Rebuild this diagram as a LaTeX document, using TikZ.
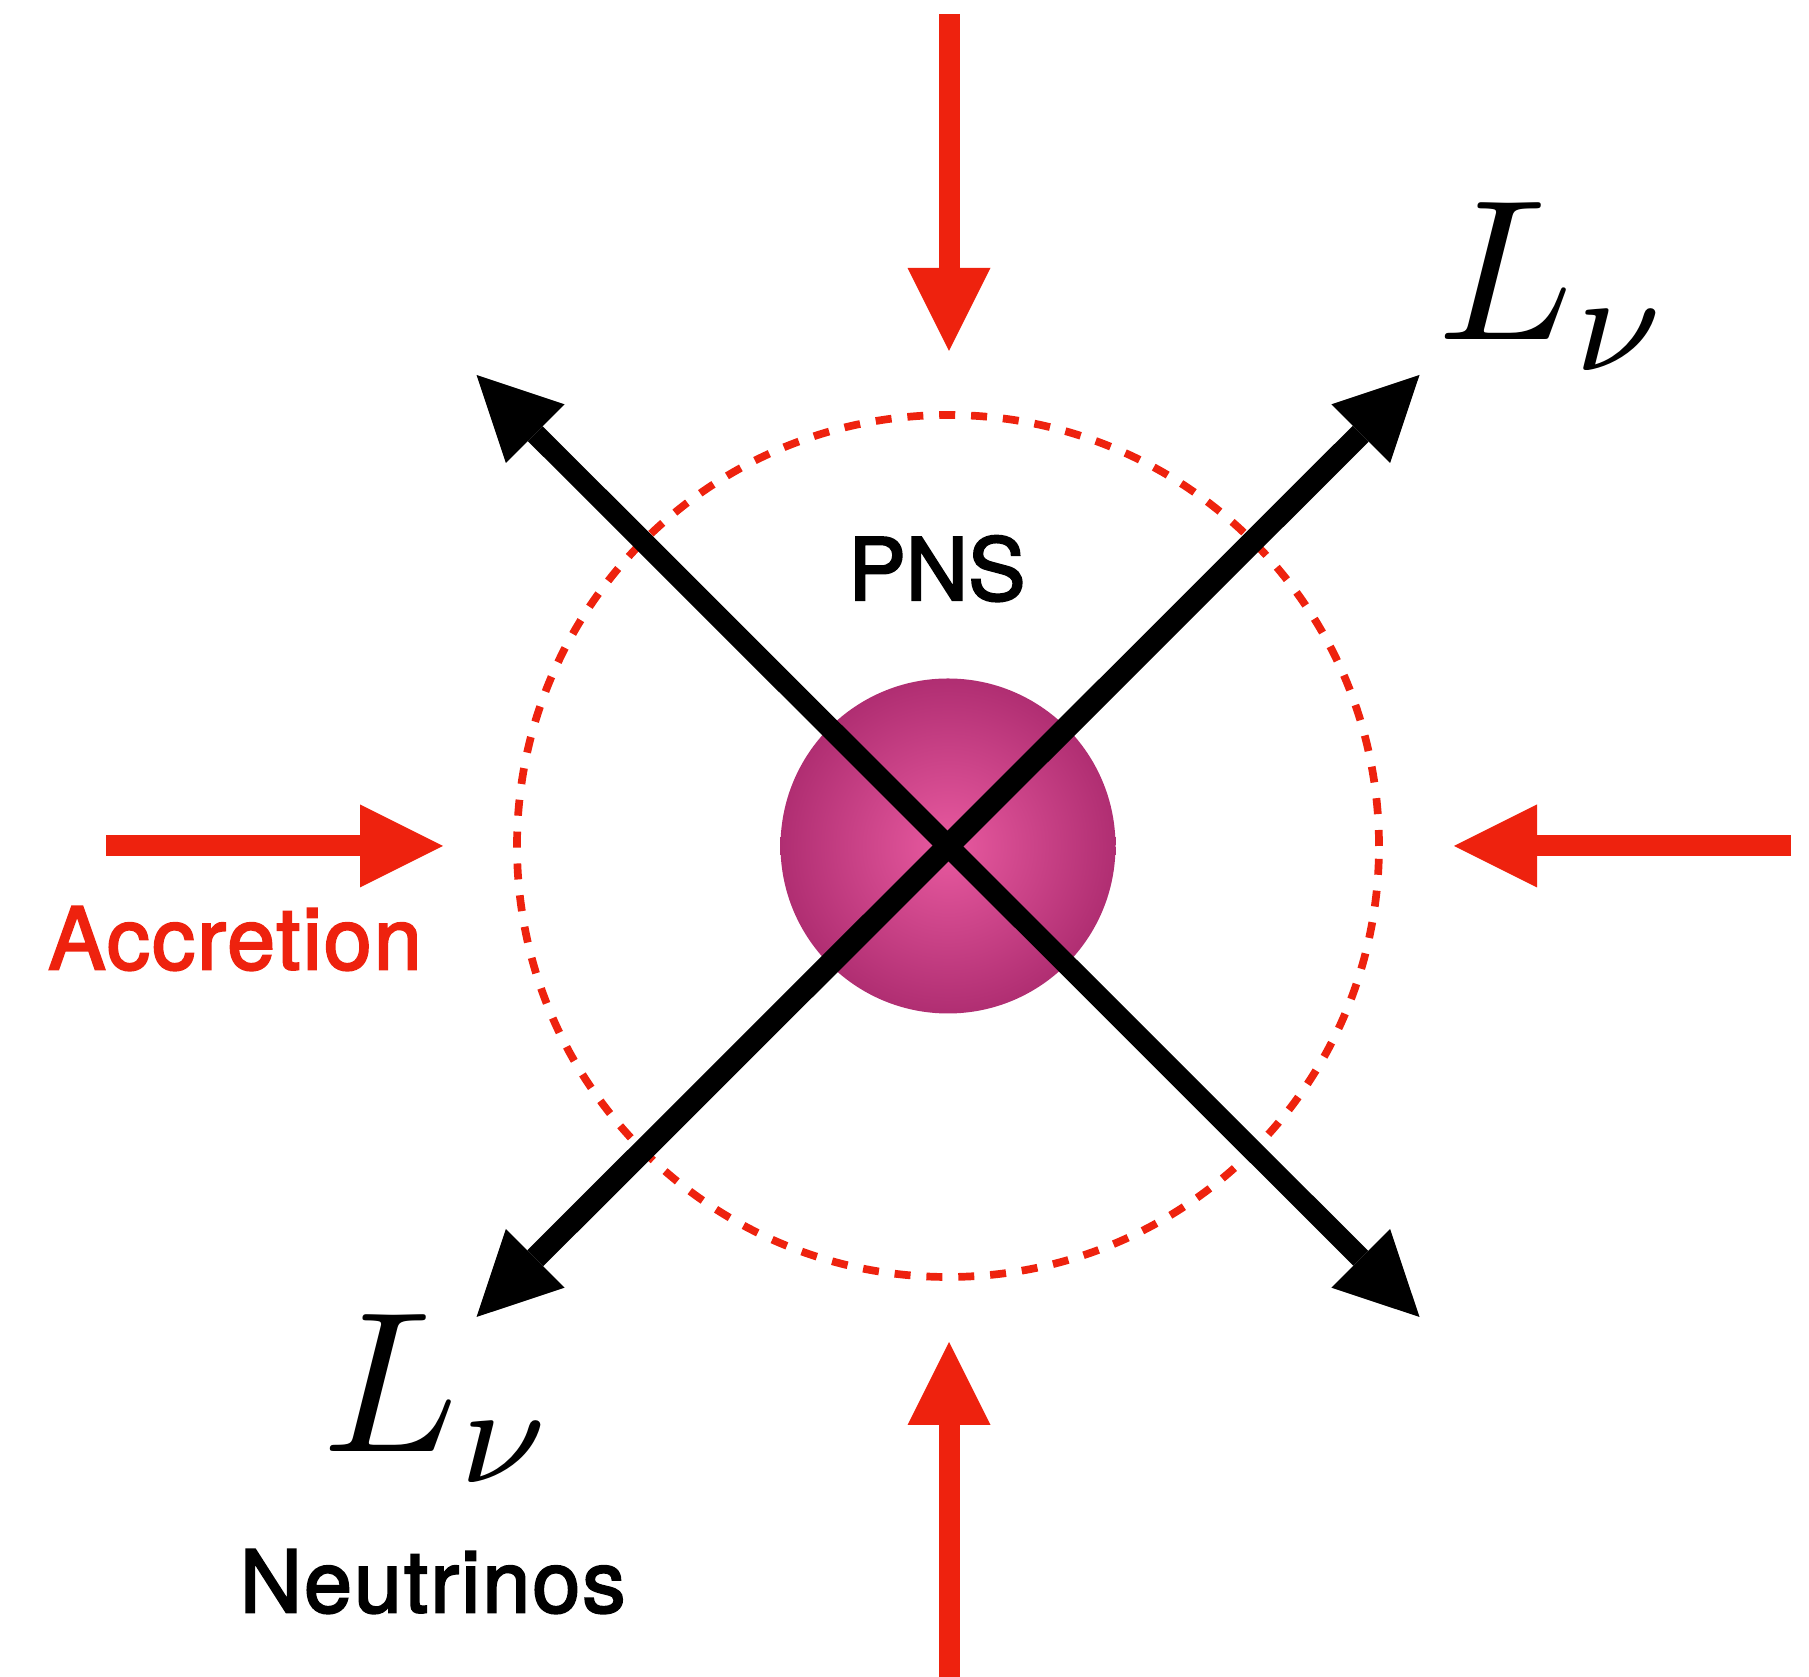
\documentclass[tikz,border=0pt]{standalone}
\usepackage{fontspec}
\usepackage{tikz}
\usetikzlibrary{calc}
\usetikzlibrary{arrows.meta}
\newfontfamily\labelfont{TeX Gyre Heros}[FakeBold=2.5]
\newfontfamily\widelabelfont{TeX Gyre Heros}[FakeBold=2.5,LetterSpace=2.5]
\definecolor{accred}{RGB}{238,34,14}
\definecolor{pnsin}{RGB}{232,90,160}
\definecolor{pnsout}{RGB}{176,46,114}

\begin{document}
\begin{tikzpicture}[
        x=1cm,
        y=1cm,
        inflow/.style={draw=accred,line width=0.21cm,
            -{Triangle[length=0.83cm,width=0.83cm,line width=0pt]}},
        nu ray/.style={line width=0.21cm,
            {Triangle[length=0.83cm,width=0.83cm,line width=0pt]}-{Triangle[length=0.83cm,width=0.83cm,line width=0pt]}},
        shock/.style={draw=accred,line width=0.077cm,dash pattern=on 0.16cm off 0.159cm},
        word/.style={font=\labelfont\fontsize{24.5}{29}\selectfont,inner sep=0pt,anchor=base},
        wide word/.style={word,font=\widelabelfont\fontsize{24.5}{29}\selectfont},
        lum/.style={font=\normalsize,scale=5.7,transform shape,inner sep=0pt,anchor=base west}
    ]
        \useasboundingbox (0,0) rectangle (18.09,16.77);
        % The proto-neutron star in the middle.
        \coordinate (c) at (9.48,8.31);
        \draw[shock] (c) circle (4.31);
        \shade[inner color=pnsin,outer color=pnsout] (c) circle (1.675);

        % Matter falling in from all four sides.
        \coordinate (top) at (9.49,16.63);
        \coordinate (bot) at (9.49,0);
        \coordinate (lft) at (1.06,8.31);
        \coordinate (rgt) at (17.91,8.31);
        \draw[inflow] (top) -- (9.49,13.26);
        \draw[inflow] (bot) -- (9.49,3.35);
        \draw[inflow] (lft) -- (4.43,8.31);
        \draw[inflow] (rgt) -- (14.54,8.31);

        % Neutrinos streaming out along the diagonals.
        \draw[nu ray] ($(c)+(-4.715,4.71)$) -- ($(c)+(4.715,-4.71)$);
        \draw[nu ray,line width=0.225cm] ($(c)+(-4.715,-4.71)$) -- ($(c)+(4.715,4.71)$);

        \node[word] (pns) at (9.37,10.77) {PNS};
        \node[wide word,text=accred] (acc) at (2.35,7.077) {Accretion};
        \node[wide word] (neu) at (4.327,0.647) {Neutrinos};
        \node[lum] (lnu1) at (14.33,13.37) {$L_\nu$};
        \node[lum] (lnu2) at (3.18,2.25) {$L_\nu$};
    \end{tikzpicture}
\end{document}
